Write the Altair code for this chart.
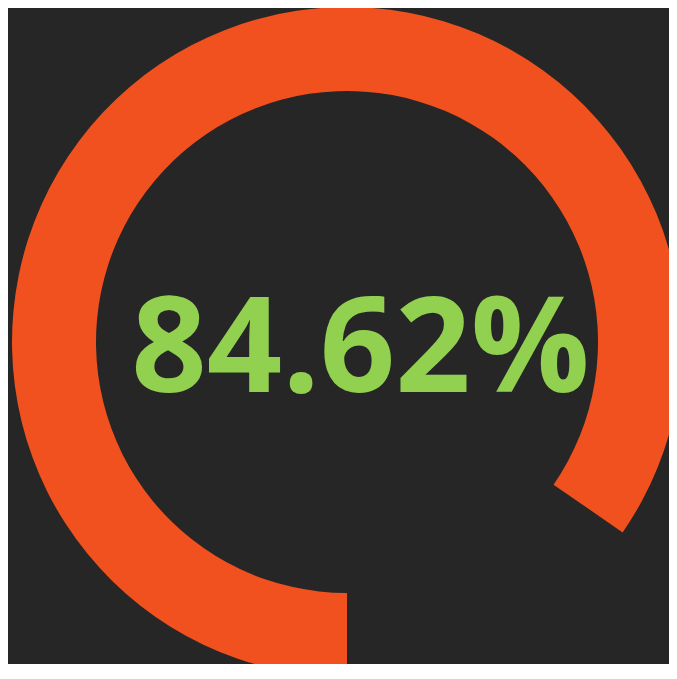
import math
import altair as alt
import pandas as pd

# data
start_values = [0.0]
percent_values = [84.62]

df = pd.DataFrame({"start": start_values, "value": percent_values})

BG = "#262626"
ORANGE = "#F0511E"
GREEN = "#92D050"

cx, cy = 339, 334

arc = alt.Chart(df).mark_arc(radius=335, radius2=251, color=ORANGE, strokeWidth=0).encode(
    theta=alt.Theta("start:Q", scale=alt.Scale(domain=[0, 100], range=[math.pi, 3 * math.pi]), stack=None),
    theta2="value:Q",
    x=alt.value(cx),
    y=alt.value(cy),
)

text = alt.Chart(df).transform_calculate(
    label="format(datum.value, '.2f') + '%'"
).mark_text(
    font="Open Sans", fontWeight="bold", fontSize=132, color=GREEN,
    align="center", baseline="alphabetic",
).encode(
    text="label:N",
    x=alt.value(352.5),
    y=alt.value(384),
)

chart = alt.layer(arc, text).properties(
    width=661, height=656, padding=0, autosize=alt.AutoSizeParams(type="none"),
    background=BG,
).configure_view(stroke=None)

chart.save("out.html", embed_options={"renderer": "svg", "actions": False})
